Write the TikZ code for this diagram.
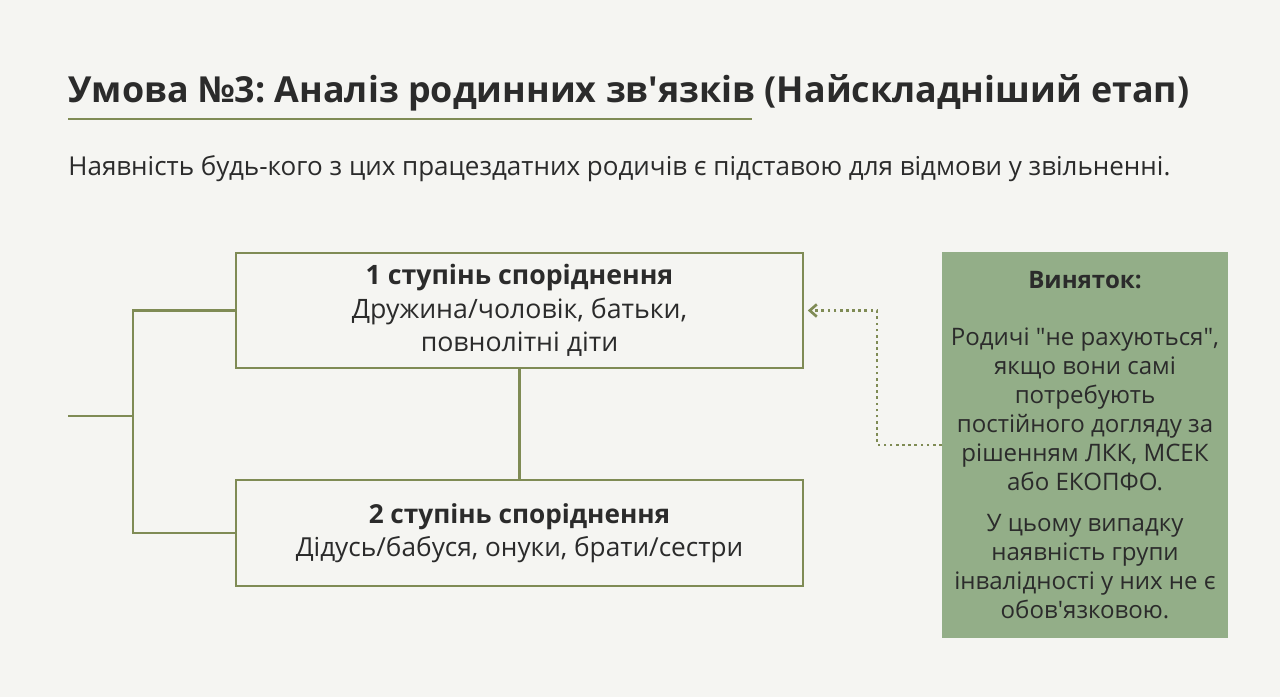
\documentclass[tikz,border=0pt]{standalone}
\usepackage{fontspec}
\setmainfont[Ligatures=TeXOff]{Open Sans}
\frenchspacing
\usetikzlibrary{arrows.meta,positioning}
\definecolor{paper}{HTML}{F5F5F2}
\definecolor{olive}{HTML}{7F8B55}
\definecolor{sage}{HTML}{93AE88}
\definecolor{ink}{HTML}{2B2B2B}
\tikzset{
  degbox/.style={draw=olive, line width=1.5pt, fill=paper, align=center, text=ink,
    minimum width=11.34cm, font=\fontsize{15.2}{19}\selectfont},
  excbox/.style={fill=sage, align=center, text=ink, minimum width=5.72cm,
    minimum height=7.72cm, font=\fontsize{13.7}{16.5}\selectfont},
  link/.style={draw=olive, line width=1.5pt},
  hint/.style={draw=olive, line width=1.5pt, dotted, -{Straight Barb[length=4pt,width=7pt]}, shorten >=2pt}
}

\begin{document}
\begin{tikzpicture}[x=0.02cm,y=-0.02cm]
        \fill[paper] (0,0) rectangle (1280,697);
        \useasboundingbox (0,0) rectangle (1280,697);

        % heading
        \node[anchor=base west, inner sep=0, text=ink, font=\fontsize{20.4}{25}\selectfont\bfseries] (title) at (68,102)
            {Умова №3: Аналіз родинних зв'язків (Найскладніший етап)};
        \draw[olive, line width=1.6pt] (68,119) -- (752,119);
        \node[anchor=base west, inner sep=0, text=ink, font=\fontsize{14.8}{18}\selectfont] (lead) at (68,175)
            {Наявність будь-кого з цих працездатних родичів є підставою для відмови у звільненні.};

        % degrees of kinship
        \node[degbox, minimum height=2.3cm] (deg1) at (519.5,310.5)
            {\textbf{1 ступінь споріднення}\\Дружина/чоловік, батьки,\\повнолітні діти};
        \node[degbox, minimum height=2.12cm, font=\fontsize{14.9}{19}\selectfont] (deg2) at (519.5,533)
            {\textbf{2 ступінь споріднення}\\Дідусь/бабуся, онуки, брати/сестри};
        \draw[link] (deg1.south) -- (deg2.north);

        \coordinate (stub) at (68,416);
        \coordinate (fork) at (133,416);
        \draw[link] (stub) -- (fork);
        \draw[link] (deg1.west) -| (fork) |- (deg2.west);

        % exception
        \node[excbox] (exc) at (1085,445)
            {\textbf{Виняток:}\\[16.5pt]
             Родичі "не рахуються",\\якщо вони самі\\потребують\\постійного догляду за\\рішенням ЛКК, МСЕК\\або ЕКОПФО.\\[6.8pt]
             У цьому випадку\\наявність групи\\інвалідності у них не є\\обов'язковою.};
        \coordinate (elbow) at (877,445);
        \draw[hint] (exc.west |- elbow) -- (elbow) |- (deg1.east);
\end{tikzpicture}
\end{document}
